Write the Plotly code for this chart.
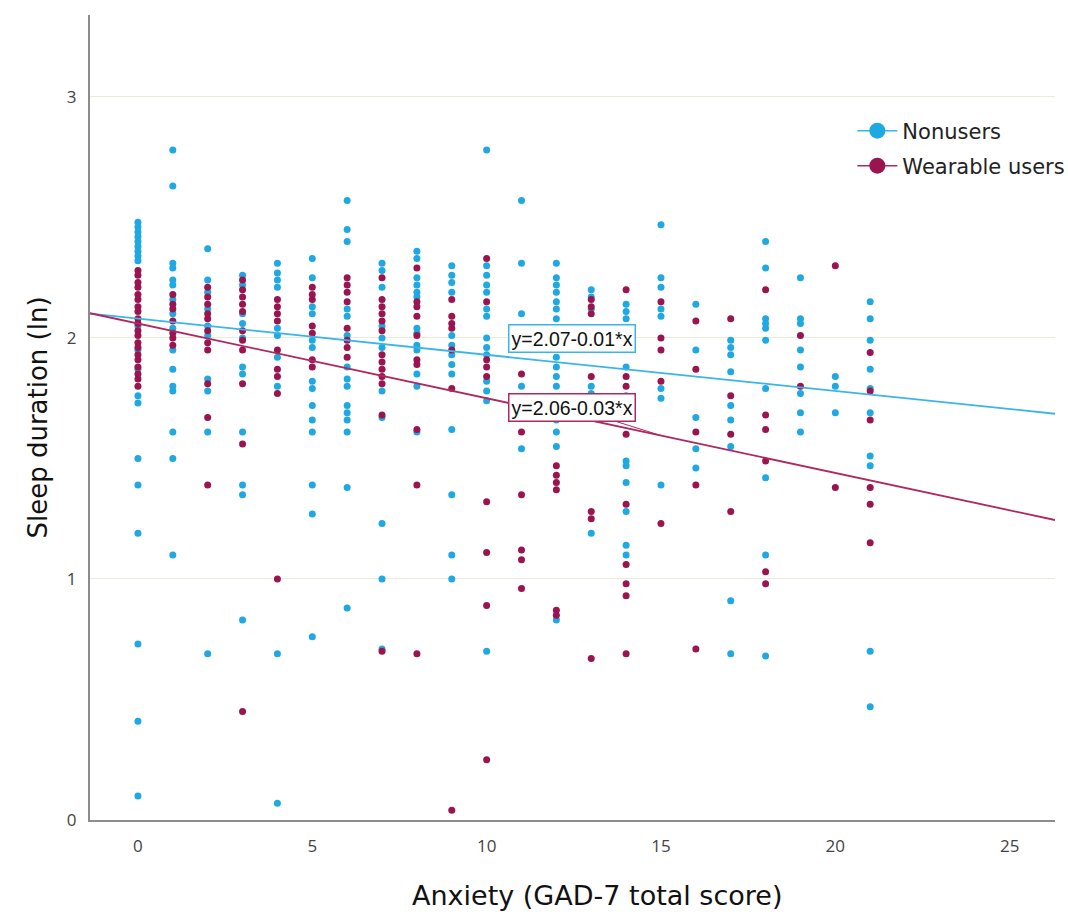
import plotly.graph_objects as go

# ---- data ----
anxiety_scores = list(range(0, 22))

nonusers_y = {
    0: [2.48, 2.46, 2.44, 2.42, 2.40, 2.38, 2.36, 2.34, 2.32, 2.05, 1.95, 1.87, 1.76, 1.73, 1.50, 1.39, 1.19, 0.73, 0.41, 0.10],
    1: [2.78, 2.63, 2.31, 2.29, 2.24, 2.22, 2.16, 2.10, 2.04, 1.95, 1.87, 1.80, 1.78, 1.61, 1.50, 1.10],
    2: [2.37, 2.24, 2.19, 2.12, 2.05, 2.01, 1.83, 1.78, 1.61, 0.69],
    3: [2.26, 2.22, 2.10, 2.06, 2.00, 1.88, 1.85, 1.61, 1.39, 1.35, 0.83],
    4: [2.31, 2.27, 2.24, 2.21, 2.04, 2.01, 1.92, 1.80, 0.69, 0.07],
    5: [2.33, 2.25, 2.13, 2.10, 1.99, 1.96, 1.82, 1.79, 1.72, 1.66, 1.61, 1.39, 1.27, 0.76],
    6: [2.57, 2.45, 2.40, 2.12, 2.09, 2.01, 1.88, 1.83, 1.80, 1.72, 1.69, 1.66, 1.61, 1.38, 0.88],
    7: [2.31, 2.28, 2.21, 2.05, 2.00, 1.96, 1.78, 1.67, 1.23, 1.00, 0.71],
    8: [2.36, 2.33, 2.25, 2.22, 2.19, 2.17, 2.04, 2.02, 1.97, 1.95, 1.85, 1.80, 1.61],
    9: [2.30, 2.26, 2.23, 2.19, 2.01, 1.97, 1.93, 1.89, 1.85, 1.62, 1.35, 1.10, 1.00],
    10: [2.78, 2.30, 2.26, 2.22, 2.19, 2.12, 2.09, 2.00, 1.96, 1.93, 1.82, 1.78, 1.74, 0.70],
    11: [2.57, 2.31, 2.10, 1.99, 1.80, 1.70, 1.54],
    12: [2.31, 2.25, 2.22, 2.19, 2.15, 2.12, 2.08, 1.92, 1.88, 1.84, 1.80, 1.66, 1.61, 1.55, 0.83],
    13: [2.20, 2.17, 2.12, 2.04, 1.98, 1.80, 1.77, 1.74, 1.19],
    14: [2.14, 2.11, 2.08, 2.04, 1.98, 1.88, 1.76, 1.49, 1.47, 1.40, 1.28, 1.14, 1.10],
    15: [2.47, 2.25, 2.21, 2.12, 2.09, 1.79, 1.75, 1.39],
    16: [2.14, 1.95, 1.67, 1.54, 1.46],
    17: [1.99, 1.96, 1.93, 1.86, 1.72, 1.66, 1.55, 0.91, 0.69],
    18: [2.40, 2.29, 2.08, 2.06, 2.04, 1.99, 1.79, 1.42, 1.10, 0.68],
    19: [2.25, 2.08, 2.06, 1.95, 1.88, 1.77, 1.69, 1.61],
    20: [1.84, 1.80, 1.69],
    21: [2.15, 2.08, 1.99, 1.87, 1.79, 1.69, 1.51, 1.47, 0.70, 0.47],
}

wearable_y = {
    0: [2.28, 2.26, 2.23, 2.21, 2.18, 2.16, 2.13, 2.11, 2.08, 2.06, 2.03, 2.01, 1.98, 1.96, 1.93, 1.91, 1.88, 1.85, 1.83, 1.80],
    1: [2.18, 2.14, 2.12, 2.07, 2.02, 2.00, 1.97],
    2: [2.21, 2.17, 2.14, 2.10, 2.08, 2.03, 1.98, 1.95, 1.81, 1.67, 1.39],
    3: [2.24, 2.20, 2.17, 2.14, 2.11, 2.03, 1.99, 1.95, 1.81, 1.56, 0.45],
    4: [2.16, 2.13, 2.10, 2.07, 1.95, 1.87, 1.84, 1.77, 1.00],
    5: [2.21, 2.18, 2.16, 2.05, 2.02, 1.91, 1.88],
    6: [2.25, 2.22, 2.19, 2.15, 2.04, 1.99, 1.96, 1.92],
    7: [2.25, 2.16, 2.13, 2.10, 2.07, 2.03, 1.93, 1.90, 1.87, 1.84, 1.81, 1.68, 0.70],
    8: [2.29, 2.15, 2.13, 2.09, 2.01, 1.91, 1.89, 1.62, 1.39, 0.69],
    9: [2.16, 2.09, 2.06, 2.04, 1.95, 1.79, 0.04],
    10: [2.33, 2.15, 1.91, 1.88, 1.84, 1.32, 1.11, 0.89, 0.25],
    11: [2.03, 1.85, 1.61, 1.35, 1.12, 1.08, 0.96],
    12: [1.47, 1.43, 1.40, 1.37, 0.87, 0.85],
    13: [2.16, 2.13, 2.10, 1.84, 1.28, 1.25, 0.67],
    14: [2.20, 1.84, 1.80, 1.60, 1.31, 1.06, 0.98, 0.93, 0.69],
    15: [2.15, 2.00, 1.95, 1.82, 1.23],
    16: [2.07, 1.87, 1.61, 1.39, 0.71],
    17: [2.08, 1.76, 1.60, 1.28],
    18: [2.20, 1.68, 1.62, 1.49, 1.03, 0.98],
    19: [2.01, 1.80],
    20: [2.30, 1.38],
    21: [1.94, 1.78, 1.66, 1.38, 1.31, 1.15],
}

group_names = ["Nonusers", "Wearable users"]
fit_intercepts = [2.08, 2.06]
fit_slopes = [-0.015, -0.031]
fit_labels = ["y=2.07-0.01*x", "y=2.06-0.03*x"]

x_ticks = [0, 5, 10, 15, 20, 25]
y_ticks = [0, 1, 2, 3]
x_range = [-1.375, 26.3]
y_range = [0, 3.34]

# ---- styles ----
BLUE = "#1FA8E2"
RED = "#9A1550"
BLUE_LINE = "#3BB5E8"
RED_LINE = "#B02860"
FONT = "Liberation Sans, Arial, sans-serif"
TFONT = "DejaVu Sans, Open Sans, sans-serif"
KFONT = "Open Sans, Liberation Sans, sans-serif"


def flatten(d):
    xs, ys = [], []
    for k in anxiety_scores:
        for v in d.get(k, []):
            xs.append(k)
            ys.append(v)
    return xs, ys


fig = go.Figure()

for name, data, col in [(group_names[0], nonusers_y, BLUE), (group_names[1], wearable_y, RED)]:
    xs, ys = flatten(data)
    fig.add_trace(go.Scatter(
        x=xs, y=ys, mode="markers", name=name, showlegend=False,
        marker=dict(color=col, size=7, line=dict(width=0)),
        cliponaxis=False,
    ))

# regression lines
for b0, b1, col in [(fit_intercepts[0], fit_slopes[0], BLUE_LINE), (fit_intercepts[1], fit_slopes[1], RED_LINE)]:
    fig.add_trace(go.Scatter(
        x=x_range, y=[b0 + b1 * x_range[0], b0 + b1 * x_range[1]],
        mode="lines", line=dict(color=col, width=1.8), showlegend=False,
        hoverinfo="skip",
    ))

# legend-only traces (one legend box each, to match spacing)
for name, col, lcol, leg in [(group_names[0], BLUE, BLUE_LINE, "legend"),
                             (group_names[1], RED, RED_LINE, "legend2")]:
    fig.add_trace(go.Scatter(
        x=[None], y=[None], mode="lines+markers", name=name, legend=leg,
        marker=dict(color=col, size=18), line=dict(color=lcol, width=1.5),
    ))

# equation labels
fig.add_annotation(
    x=12.44, y=1.996, text=fit_labels[0], showarrow=False,
    font=dict(family=FONT, size=19.5, color="#111"),
    bgcolor="white", bordercolor=BLUE_LINE, borderwidth=1.5, borderpad=2,
)
fig.add_annotation(
    x=15.0, y=fit_intercepts[1] + fit_slopes[1] * 15.0, ax=-89, ay=-28,
    text=fit_labels[1], showarrow=True, arrowhead=0, arrowwidth=1, arrowcolor=RED_LINE,
    font=dict(family=FONT, size=19.5, color="#111"),
    bgcolor="white", bordercolor=RED_LINE, borderwidth=1.5, borderpad=2,
)

# x-axis title as annotation
fig.add_annotation(
    x=(597 - 90) / 965, xref="paper", y=-(895 - 820) / 805, yref="paper", yanchor="middle",
    text="Anxiety (GAD-7 total score)", showarrow=False,
    font=dict(family=TFONT, size=27, color="#111"),
)

legend_common = dict(
    xanchor="left", yanchor="middle",
    font=dict(family=TFONT, size=21, color="#222"),
    bgcolor="rgba(0,0,0,0)", itemwidth=40,
)

fig.update_layout(
    width=1068, height=914,
    margin=dict(l=90, r=13, t=15, b=94, autoexpand=False),
    paper_bgcolor="white", plot_bgcolor="white",
    font=dict(family=FONT, color="#333"),
    legend=dict(x=0.79, y=1 - (131 - 15) / 805, **legend_common),
    legend2=dict(x=0.79, y=1 - (166 - 15) / 805, **legend_common),
    xaxis=dict(
        range=x_range, tickvals=x_ticks, ticktext=[str(t) for t in x_ticks],
        showgrid=False, zeroline=False, showline=True, linecolor="#8c8c8c", linewidth=2,
        ticks="", ticklabelstandoff=10, tickfont=dict(family=KFONT, size=17, color="#444"),
    ),
    yaxis=dict(
        range=y_range, tickvals=y_ticks, ticktext=[str(t) for t in y_ticks],
        showgrid=True, gridcolor="#ECEBD6", gridwidth=1.2,
        zeroline=False, showline=True, linecolor="#8c8c8c", linewidth=2,
        ticks="", ticklabelstandoff=8, tickfont=dict(family=KFONT, size=17, color="#444"),
        title=dict(text="Sleep duration (ln)", font=dict(family=TFONT, size=26, color="#111"), standoff=12),
    ),
)

fig.write_html("out.html")
